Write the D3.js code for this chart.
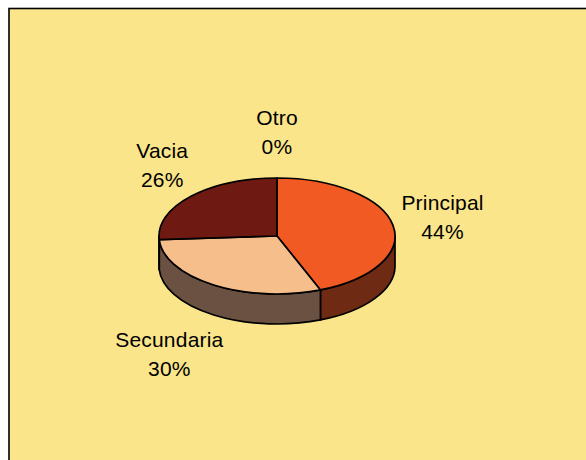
<!DOCTYPE html>
<html>
<head>
<meta charset="utf-8">
<script src="https://cdn.jsdelivr.net/npm/d3@7"></script>
<style>
  body { margin: 0; background: #fff; }
  svg { display: block; }
  .lbl { font-family: "Liberation Sans", Arial, sans-serif; font-size: 21px; fill: #000; letter-spacing: 0.2px; }
</style>
</head>
<body>
<div id="chart"></div>
<script>
const width = 586;
const height = 460;

// data
const categories = ["Principal", "Secundaria", "Vacia", "Otro"];
const values = [44, 30, 26, 0];
const topColors = ["#F15A22", "#F6BE8A", "#6E1A12", "#8A8A8A"];
const sideColors = ["#6E2A12", "#6A5142", "#4A120C", "#555555"];

// pie geometry
const cx = 277, cy = 236;
const rx = 118, ry = 58;
const depth = 30;
const labelRx = rx + 9, labelRy = ry + 24;

const svg = d3.select("#chart")
    .append("svg")
    .attr("width", width)
    .attr("height", height);

// frame
svg.append("rect")
    .attr("x", 9)
    .attr("y", 8.5)
    .attr("width", 700)
    .attr("height", 600)
    .attr("fill", "#FAE58A")
    .attr("stroke", "#000")
    .attr("stroke-width", 1.6);

const total = d3.sum(values);
const fmt = d3.format(".0%");
const topColor = d3.scaleOrdinal().domain(categories).range(topColors);
const sideColor = d3.scaleOrdinal().domain(categories).range(sideColors);

const arcs = d3.pie().sort(null).value(d => d.value)(
    categories.map((c, i) => ({ name: c, value: values[i] }))
);

const pt = (a, dy = 0) => [cx + rx * Math.sin(a), cy - ry * Math.cos(a) + dy];

function topPath(d) {
    const s = pt(d.startAngle), e = pt(d.endAngle);
    const large = d.endAngle - d.startAngle > Math.PI ? 1 : 0;
    return `M${cx},${cy}L${s}A${rx},${ry} 0 ${large} 1 ${e}Z`;
}

// front wall, only the part between 3 and 9 o'clock shows
function sidePath(d) {
    const a0 = Math.max(d.startAngle, Math.PI / 2);
    const a1 = Math.min(d.endAngle, Math.PI * 1.5);
    if (a1 <= a0) return null;
    const s = pt(a0), e = pt(a1), e2 = pt(a1, depth), s2 = pt(a0, depth);
    return `M${s}A${rx},${ry} 0 0 1 ${e}L${e2}A${rx},${ry} 0 0 0 ${s2}Z`;
}

const shown = arcs.filter(d => d.value > 0);

svg.append("g").selectAll("path")
    .data(shown.filter(d => sidePath(d)))
    .join("path")
    .attr("d", sidePath)
    .attr("fill", d => sideColor(d.data.name))
    .attr("stroke", "#000")
    .attr("stroke-width", 1.7)
    .attr("stroke-linejoin", "round");

svg.append("g").selectAll("path")
    .data(shown)
    .join("path")
    .attr("d", topPath)
    .attr("fill", d => topColor(d.data.name))
    .attr("stroke", "#000")
    .attr("stroke-width", 1.7)
    .attr("stroke-linejoin", "round");

// labels
const lineGap = 29;
const labels = svg.append("g").selectAll("text")
    .data(arcs)
    .join("text")
    .attr("class", "lbl")
    .attr("text-anchor", "middle");

labels.each(function(d) {
    const t = d3.select(this);
    t.append("tspan").attr("class", "nm").text(d.data.name);
    t.append("tspan").attr("class", "pc").text(fmt(d.value / total));
    const w = Math.max(...t.selectAll("tspan").nodes().map(n => n.getComputedTextLength()));
    const mid = (d.startAngle + d.endAngle) / 2;
    const sn = Math.sin(mid), cs = Math.cos(mid);
    const ax = cx + labelRx * sn + Math.sign(sn) * Math.sqrt(Math.abs(sn)) * w / 2;
    const ay = cy - labelRy * cs + (cs < 0 ? depth : 0) - cs * 22;
    const y0 = ay - 7;
    t.select(".nm").attr("x", ax).attr("y", y0);
    t.select(".pc").attr("x", ax).attr("y", y0 + lineGap);
});
</script>
</body>
</html>
